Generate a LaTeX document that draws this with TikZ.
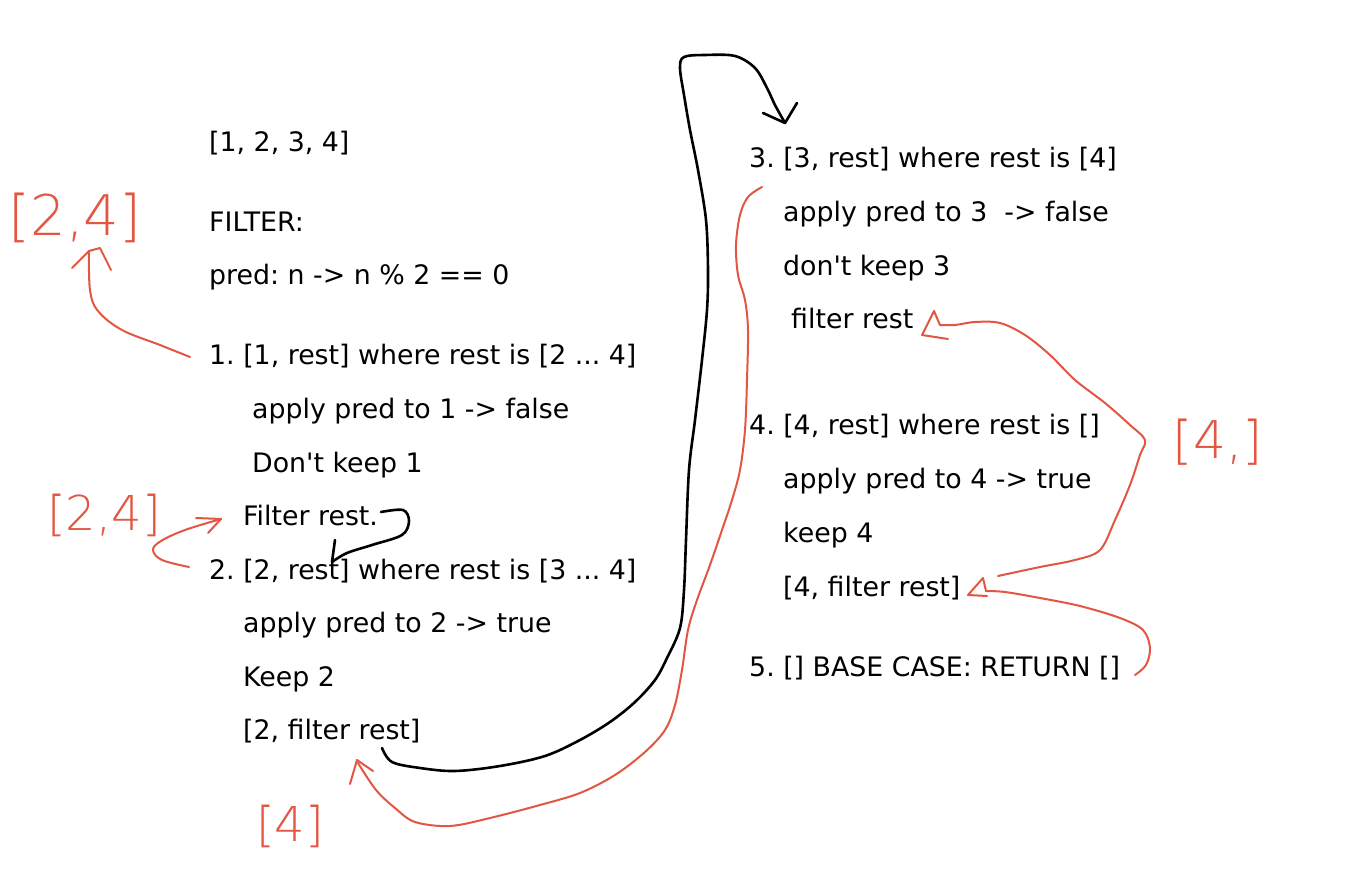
\documentclass[tikz,border=0pt]{standalone}
\usepackage{fontspec}
\setmainfont{DejaVu Sans}
\newfontfamily\handfont{DejaVu Sans ExtraLight}
\definecolor{pen}{RGB}{226,86,66}
\frenchspacing
\begin{document}
\begin{tikzpicture}[x=1pt,y=-1pt,
  txt/.style={anchor=base west,inner sep=0pt,font=\fontsize{26.8}{30}\selectfont},
  hand/.style={anchor=center,inner sep=0pt,text=pen},
  blk/.style={draw=black,line width=2.6pt,line cap=round,line join=round},
  redl/.style={draw=pen,line width=2pt,line cap=round,line join=round}]
\useasboundingbox[fill=white] (0,0) rectangle (1350,890);
% left column
\node[txt] (list) at (209,152) {[1, 2, 3, 4]};
\node[txt] (filt) at (209,232) {FILTER:};
\node[txt] (pred) at (209,285) {pred: n -> n \% 2 == 0};
\node[txt] (s1) at (209,365) {1. [1, rest] where rest is [2 ... 4]};
\node[txt] (s1a) at (252,419) {apply pred to 1 -> false};
\node[txt] (s1b) at (252,472) {Don\textquotesingle t keep 1};
\node[txt] (s1c) at (243,525) {Filter rest.};
\node[txt] (s2) at (209,579) {2. [2, rest] where rest is [3 ... 4]};
\node[txt] (s2a) at (243,632) {apply pred to 2 -> true};
\node[txt] (s2b) at (243,686) {Keep 2};
\node[txt] (s2c) at (243,739) {[2, filter rest]};
% right column
\node[txt] (s3) at (749,168) {3. [3, rest] where rest is [4]};
\node[txt] (s3a) at (783,222) {apply pred to 3\ \ -> false};
\node[txt] (s3b) at (783,276) {don\textquotesingle t keep 3};
\node[txt] (s3c) at (791,329) {filter rest};
\node[txt] (s4) at (749,435) {4. [4, rest] where rest is []};
\node[txt] (s4a) at (783,489) {apply pred to 4 -> true};
\node[txt] (s4b) at (783,542) {keep 4};
\node[txt] (s4c) at (783,596) {[4, filter rest]};
\node[txt] (s5) at (749,676) {5. [] BASE CASE: RETURN []};
% handwritten labels
\node[hand,font=\handfont\fontsize{56}{58}\selectfont] (h1) at (75,218) {[2,4]};
\node[hand,font=\handfont\fontsize{48}{50}\selectfont] (h2) at (104,515) {[2,4]};
\node[hand,font=\handfont\fontsize{48}{50}\selectfont] (h3) at (290,826) {[4]};
\node[hand,font=\handfont\fontsize{52}{54}\selectfont] (h4) at (1218,442) {[4,]};
% black connectors
\coordinate (b0) at (382,748);
\coordinate (bt) at (785,123);
\draw[blk] plot[smooth,tension=0.55] coordinates {(b0) (392,762) (420,768) (455,771) (500,766) (545,756) (580,740) (610,722) (635,702) (655,680) (667,658) (680,628) (684,590) (686,540) (689,470) (695,420) (702,360) (707,310) (708,270) (706,220) (698,170) (690,130) (684,95) (680,68) (684,57) (705,55) (735,56) (755,68) (767,88) (775,105) (bt)};
\draw[blk] (763,113) -- (bt) -- (797,103);
\coordinate (c0) at (381,512);
\coordinate (ct) at (332,562);
\draw[blk] plot[smooth,tension=0.55] coordinates {(c0) (403,510) (409,521) (402,535) (372,545) (347,553) (ct)};
\draw[blk] (335,540) -- (ct);
% red connectors
\coordinate (ra0) at (190,357);
\coordinate (rat) at (89,251);
\draw[redl] plot[smooth,tension=0.6] coordinates {(ra0) (160,345) (122,330) (98,311) (90,290) (rat)};
\draw[redl] (72,268) -- (rat) -- (100,248) -- (111,270);
\coordinate (rb0) at (189,567);
\coordinate (rbt) at (221,519);
\draw[redl] plot[smooth,tension=0.6] coordinates {(rb0) (162,560) (153,550) (161,541) (185,530) (rbt)};
\draw[redl] (196,518) -- (rbt) -- (208,533);
\coordinate (rc0) at (762,187);
\coordinate (rct) at (358,763);
\draw[redl] plot[smooth,tension=0.55] coordinates {(rc0) (748,197) (740,215) (736,245) (738,275) (745,300) (748,330) (747,380) (745,430) (740,470) (732,500) (722,530) (710,565) (697,600) (688,630) (682,670) (675,705) (665,730) (645,752) (615,775) (580,793) (540,805) (490,818) (450,826) (415,822) (395,808) (376,790) (rct)};
\draw[redl] (350,784) -- (357,760) -- (373,771);
\coordinate (rd0) at (998,576);
\coordinate (rdt) at (940,325);
\draw[redl] plot[smooth,tension=0.55] coordinates {(rd0) (1040,567) (1075,560) (1100,550) (1115,520) (1130,485) (1140,455) (1145,440) (1130,425) (1105,403) (1075,380) (1050,355) (1025,335) (1000,323) (975,322) (955,325) (rdt)};
\draw[redl] (rdt) -- (934,311) -- (922,335) -- (948,339);
\coordinate (re0) at (1135,675);
\coordinate (ret) at (986,591);
\draw[redl] plot[smooth,tension=0.55] coordinates {(re0) (1146,665) (1150,648) (1143,630) (1120,618) (1080,606) (1040,598) (1005,592) (ret)};
\draw[redl] (ret) -- (983,578) -- (968,595) -- (987,596);
\end{tikzpicture}
\end{document}
